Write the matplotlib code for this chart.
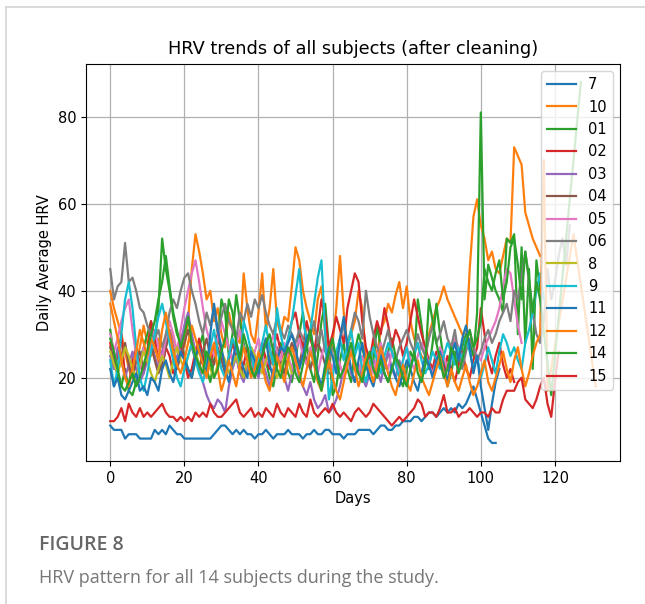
import numpy as np
import matplotlib
matplotlib.use("Agg")
import matplotlib.pyplot as plt
from matplotlib.lines import Line2D

# daily average HRV per subject (day index = position in list)
hrv_7 = [9, 8, 8, 8, 6, 7, 7, 7, 6, 6,
         6, 6, 8, 7, 8, 7, 9, 8, 7, 7,
         6, 6, 6, 6, 6, 6, 6, 6, 7, 8,
         9, 9, 8, 7, 8, 7, 8, 7, 7, 6,
         7, 7, 8, 7, 6, 7, 7, 7, 8, 7,
         7, 7, 6, 7, 7, 8, 7, 7, 8, 8,
         7, 7, 7, 6, 7, 7, 7, 8, 8, 8,
         8, 7, 8, 9, 9, 8, 8, 9, 9, 10,
         10, 10, 11, 11, 10, 11, 12, 12, 11, 12,
         13, 12, 13, 12, 14, 13, 14, 16, 18, 15,
         12, 9, 6, 5, 5]
hrv_10 = [40, 36, 33, 30, 26, 22, 20, 24, 27, 32,
          28, 25, 26, 29, 24, 27, 31, 29, 26, 30,
          27, 33, 45, 53, 49, 44, 38, 40, 33, 36,
          30, 27, 35, 31, 29, 28, 44, 36, 30, 28,
          35, 44, 31, 36, 45, 33, 30, 34, 33, 41,
          50, 47, 40, 36, 33, 30, 38, 41, 30, 22,
          28, 36, 48, 35, 27, 30, 33, 40, 36, 24,
          22, 28, 25, 31, 33, 37, 35, 39, 42, 36,
          41, 33, 29, 27, 25, 24, 30, 33, 36, 38,
          41, 38, 36, 34, 32, 30, 28, 45, 57, 61,
          55, 52, 47, 49, 45, 44, 48, 52, 51, 73,
          71, 69, 58, 55, 52, 50, 48]
hrv_01 = [31, 25, 20, 18, 22, 17, 16, 19, 24, 27,
          30, 33, 28, 36, 52, 45, 40, 34, 30, 28,
          25, 22, 20, 24, 27, 30, 22, 19, 24, 28,
          38, 35, 25, 30, 39, 33, 28, 24, 21, 25,
          22, 27, 24, 20, 18, 23, 28, 25, 21, 19,
          24, 30, 35, 28, 22, 19, 25, 33, 37, 27,
          16, 18, 24, 28, 22, 19, 26, 30, 27, 23,
          21, 24, 32, 27, 22, 26, 29, 25, 20, 18,
          22, 26, 24, 38, 32, 25, 22, 28, 37, 30,
          24, 18, 21, 26, 23, 27, 30, 28, 25, 35,
          81, 38, 46, 43, 40, 38, 35, 52, 51, 53,
          30, 50, 28, 45, 22, 47, 40]
hrv_02 = [28, 22, 25, 30, 20, 18, 24, 27, 23, 21,
          26, 33, 29, 24, 22, 27, 25, 21, 23, 28,
          24, 20, 22, 26, 29, 25, 21, 23, 27, 30,
          26, 22, 24, 28, 25, 21, 23, 27, 24, 20,
          25, 28, 24, 22, 27, 30, 26, 24, 29, 33,
          35, 30, 27, 33, 29, 26, 31, 38, 34, 27,
          30, 34, 31, 28, 36, 40, 44, 42, 33, 27,
          24, 29, 33, 30, 36, 32, 27, 31, 29, 25,
          28, 33, 38, 34, 30, 27, 24, 22, 26, 23,
          21, 25, 22, 19, 23, 26, 22, 20, 24, 27,
          36, 30, 24, 21, 25, 28, 23, 20, 22, 19]
hrv_03 = [25, 22, 27, 24, 20, 23, 26, 22, 19, 21,
          24, 28, 25, 22, 26, 29, 31, 27, 24, 28,
          32, 35, 30, 26, 22, 19, 16, 14, 13, 15,
          14, 12, 18, 22, 25, 21, 19, 23, 26, 22,
          20, 24, 21, 18, 22, 25, 23, 20, 17, 21,
          24, 20, 18, 16, 19, 15, 13, 14, 16, 12,
          13, 15, 18, 22, 25, 21, 19, 23, 20, 18,
          21, 24, 22, 19, 23, 26, 22, 20, 24, 21]
hrv_04 = [27, 24, 21, 25, 28, 23, 20, 24, 26, 22,
          25, 28, 24, 21, 23, 27, 30, 26, 22, 25,
          28, 31, 27, 24, 22, 26, 29, 25, 23, 27,
          24, 21, 25, 28, 26, 23, 20, 24, 27, 25,
          22, 26, 29, 25, 23, 27, 24, 21, 25, 28,
          26, 23, 27, 24, 22, 25, 28, 26, 23, 21]
hrv_05 = [30, 26, 29, 33, 36, 38, 31, 25, 22, 27,
          24, 28, 31, 27, 24, 29, 33, 30, 26, 31,
          36, 40, 44, 47, 42, 36, 31, 28, 25, 29,
          33, 30, 27, 24, 28, 31, 27, 24, 22, 26,
          29, 25, 23, 27, 30, 26, 24, 28, 25, 22,
          26, 29, 25, 23, 27, 24, 21, 25, 28, 24,
          22, 26, 23, 20, 24, 27, 23, 21, 25, 22,
          24, 21, 25, 28, 24, 22, 26, 23, 21, 24,
          27, 24, 22, 25, 28, 26, 23, 21, 24, 27,
          25, 22, 26, 29, 27, 24, 28, 31, 27, 25,
          24, 27, 29, 31, 33, 36, 41, 45, 44, 38,
          32, 28]
hrv_06 = [45, 38, 41, 42, 51, 42, 43, 40, 36, 35,
          32, 30, 29, 31, 27, 30, 35, 38, 36, 40,
          43, 44, 40, 37, 33, 30, 35, 32, 36, 30,
          34, 37, 33, 31, 29, 35, 33, 37, 34, 38,
          36, 39, 35, 32, 30, 34, 31, 29, 32, 30,
          28, 31, 29, 27, 30, 33, 28, 31, 26, 24,
          27, 25, 29, 32, 28, 31, 35, 33, 29, 40,
          34, 30, 27, 25, 28, 31, 26, 24, 27, 29,
          31, 28, 26, 30, 27, 25, 29, 32, 28, 30,
          33, 29, 27, 31, 25, 22, 26, 29, 27, 24,
          26, 29, 31, 28, 30, 33, 35, 37, 33, 40,
          38, 43, 49, 42, 35, 30, 28, 33, 45, 38,
          42, 48, 52, 46, 55]
hrv_8 = [26, 23, 21, 24, 27, 25, 22, 20, 23, 26,
         24, 21, 19, 22, 25, 23, 20, 24, 27, 24,
         22, 25, 28, 26, 23, 21, 24, 22, 20, 23,
         26, 24, 21, 23, 25, 22, 20, 24, 27, 25,
         23, 21, 24, 26, 23, 20, 22, 25, 24, 21]
hrv_9 = [24, 18, 22, 30, 38, 42, 36, 27, 20, 17,
         21, 26, 30, 34, 37, 33, 28, 24, 20, 18,
         22, 25, 28, 24, 21, 19, 23, 27, 31, 26,
         22, 20, 25, 29, 27, 23, 33, 30, 26, 21,
         24, 28, 32, 27, 23, 36, 30, 26, 29, 33,
         39, 45, 34, 28, 31, 37, 43, 47, 30, 15,
         20, 26, 29, 24, 27, 31, 25, 28, 22, 19,
         23, 27, 24, 21, 25, 28, 26, 23, 20, 24,
         27, 22, 25, 28, 24, 21, 23, 26, 24, 22,
         25, 28, 26, 23, 27, 24, 29, 26, 22, 25,
         20, 23, 27, 24, 21, 26, 30, 28, 25, 27,
         24, 22, 28, 31, 35, 40, 44, 38]
hrv_11 = [22, 18, 20, 16, 15, 17, 19, 21, 17, 18,
          16, 20, 19, 17, 22, 24, 21, 19, 23, 26,
          24, 22, 20, 25, 27, 23, 21, 30, 37, 31,
          27, 22, 19, 24, 28, 25, 22, 20, 26, 24,
          21, 25, 29, 23, 20, 24, 27, 26, 28, 30,
          27, 22, 25, 29, 31, 26, 21, 18, 23, 27,
          25, 21, 29, 34, 27, 22, 19, 24, 28, 23,
          20, 18, 22, 25, 21, 19, 23, 20, 18, 21,
          24, 22, 19, 17, 21, 25, 23, 20, 24, 26,
          22, 19, 25, 28, 24, 29, 32, 27, 21, 25,
          18, 13, 8, 14, 19, 22]
hrv_12 = [37, 33, 29, 24, 20, 18, 22, 26, 31, 28,
          25, 29, 27, 24, 31, 35, 30, 26, 23, 21,
          24, 28, 32, 29, 26, 23, 20, 25, 28, 22,
          17, 20, 24, 21, 18, 23, 27, 24, 20, 22,
          26, 23, 19, 17, 21, 25, 22, 19, 24, 27,
          24, 21, 18, 22, 26, 23, 19, 17, 21, 24,
          20, 17, 15, 19, 23, 26, 22, 18, 21, 25,
          22, 19, 23, 27, 24, 21, 18, 16, 20, 23,
          19, 17, 21, 24, 20, 18, 16, 19, 22, 25,
          21, 18, 22, 19, 17, 20, 23, 19, 16, 18,
          21, 24, 19, 17, 20, 23, 26, 22, 19, 24,
          27, 22, 18, 21, 25, 28, 30,
          70, 17, 53, 18]
days_12 = list(range(117)) + [117, 118, 125, 131]
hrv_14 = [29, 26, 22, 18, 17, 19, 21, 18, 20, 23,
          26, 30, 33, 38, 42, 48, 41, 35, 31, 27,
          30, 34, 28, 25, 23, 21, 26, 24, 20, 22,
          26, 29, 38, 35, 28, 24, 30, 27, 22, 20,
          23, 25, 28, 30, 26, 22, 20, 24, 27, 25,
          21, 19, 23, 27, 31, 25, 20, 17, 22, 26,
          29, 24, 20, 22, 25, 28, 24, 21, 19, 23,
          26, 22, 20, 24, 21, 19, 22, 25, 23, 20,
          18, 22, 26, 21, 19, 23, 38, 33, 28, 24,
          20, 22, 27, 25, 21, 24, 28, 31, 27, 29,
          33, 45, 42, 40, 44, 47, 38, 42, 50, 52,
          46, 38, 49, 43, 35, 42, 38,
          16, 88]
days_14 = list(range(117)) + [119, 127]
hrv_15 = [10, 10, 11, 13, 10, 14, 12, 11, 13, 11,
          12, 11, 12, 13, 14, 12, 11, 11, 10, 11,
          10, 11, 10, 12, 11, 12, 11, 14, 12, 11,
          11, 12, 13, 14, 15, 12, 11, 12, 13, 11,
          12, 11, 13, 12, 11, 14, 12, 11, 13, 12,
          11, 14, 12, 11, 15, 12, 11, 12, 13, 12,
          14, 12, 11, 12, 11, 10, 12, 13, 12, 11,
          12, 14, 13, 12, 11, 10, 9, 10, 11, 10,
          11, 12, 13, 15, 14, 11, 12, 12, 11, 13,
          16, 12, 12, 13, 11, 12, 12, 13, 12, 11,
          12, 12, 11, 13, 12, 12, 15, 17, 17, 17,
          19, 20, 15, 14, 13, 15, 18, 20, 14, 11,
          19, 26]

subjects = [("7", hrv_7, None), ("10", hrv_10, None), ("01", hrv_01, None),
            ("02", hrv_02, None), ("03", hrv_03, None), ("04", hrv_04, None),
            ("05", hrv_05, None), ("06", hrv_06, None), ("8", hrv_8, None),
            ("9", hrv_9, None), ("11", hrv_11, None), ("12", hrv_12, days_12),
            ("14", hrv_14, days_14), ("15", hrv_15, None)]

fig = plt.figure(figsize=(6.45, 6.04), dpi=100)
ax = fig.add_axes([0.1333, 0.2368, 0.8279, 0.6573])

for name, vals, days in subjects:
    if days is None:
        days = np.arange(len(vals))
    ax.plot(days, vals, label=name, lw=1.6)

ax.set_title("HRV trends of all subjects (after cleaning)", fontsize=12.8, pad=7)
ax.set_xlabel("Days", fontsize=10.5, labelpad=4)
ax.set_ylabel("Daily Average HRV", fontsize=10.5)
ax.tick_params(labelsize=10.5)
ax.grid(True, color="#b0b0b0", lw=0.9)
ax.legend(loc="upper right", fontsize=10.5, labelspacing=0.51)

# page frame and caption
fig.add_artist(Line2D([6 / 645, 1], [1 - 7 / 604] * 2, transform=fig.transFigure,
                      color="#d4d4d4", lw=1.2))
fig.add_artist(Line2D([6 / 645] * 2, [0, 1 - 7 / 604], transform=fig.transFigure,
                      color="#d4d4d4", lw=1.2))
fig.text(39 / 645, 1 - 545 / 604, "FIGURE 8", fontsize=14, family="Open Sans",
         weight="semibold", color="#666666", va="center")
fig.text(39 / 645, 1 - 578 / 604, "HRV pattern for all 14 subjects during the study.",
         fontsize=13, family="Open Sans", color="#777777", va="center")

fig.savefig("out.png", dpi=100)
